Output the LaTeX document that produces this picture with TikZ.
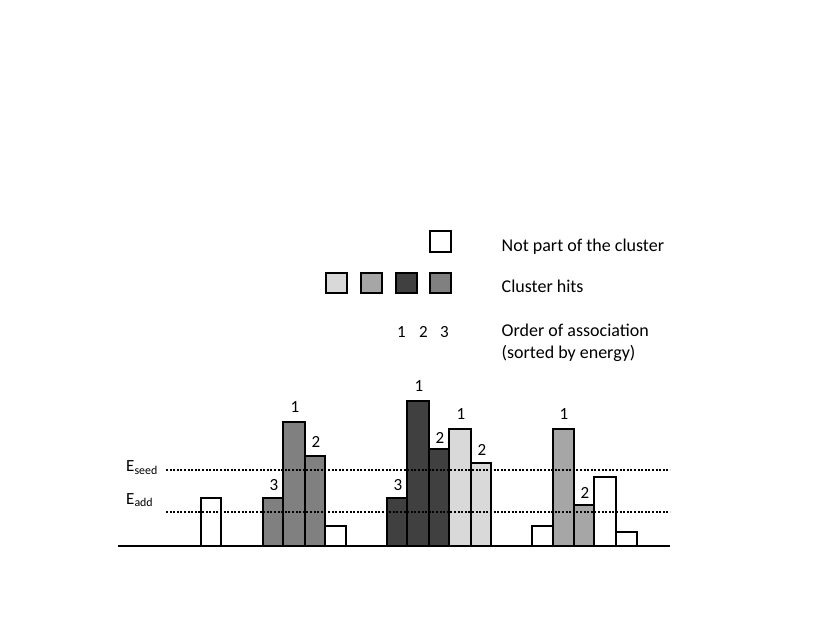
\documentclass[tikz,border=0pt]{standalone}
\usepackage{fontspec}
\setmainfont{Carlito}
\definecolor{cA}{HTML}{808080}
\definecolor{cB}{HTML}{404040}
\definecolor{cC}{HTML}{D9D9D9}
\definecolor{cD}{HTML}{A6A6A6}
\begin{document}
\begin{tikzpicture}[x=1pt,y=-1pt,
  bar/.style={draw=black,line width=2pt},
  lbl/.style={font=\fontsize{17}{19}\selectfont,inner sep=0pt,anchor=base},
  txt/.style={font=\fontsize{18}{22}\selectfont,inner sep=0pt,anchor=base west,align=left},
  thr/.style={line width=2pt,dash pattern=on 2pt off 1.6pt}]
\useasboundingbox (0,0) rectangle (830,623);
% bars
\draw[bar,fill=white] (201,546) rectangle (221,498);
\draw[bar,fill=cA] (263,546) rectangle (283,498);
\draw[bar,fill=cA] (283,546) rectangle (305,422);
\draw[bar,fill=cA] (305,546) rectangle (325,456);
\draw[bar,fill=white] (325,546) rectangle (346,526);
\draw[bar,fill=cB] (387,546) rectangle (407,498);
\draw[bar,fill=cB] (407,546) rectangle (429,401);
\draw[bar,fill=cB] (429,546) rectangle (449,449);
\draw[bar,fill=cC] (449,546) rectangle (471,429);
\draw[bar,fill=cC] (471,546) rectangle (491,463);
\draw[bar,fill=white] (532,546) rectangle (553,526);
\draw[bar,fill=cD] (553,546) rectangle (574,429);
\draw[bar,fill=cD] (574,546) rectangle (594,505);
\draw[bar,fill=white] (594,546) rectangle (616,477);
\draw[bar,fill=white] (616,546) rectangle (637,532);
% thresholds
\coordinate (s0) at (166,470); \coordinate (s1) at (670,470);
\coordinate (a0) at (166,512); \coordinate (a1) at (670,512);
\draw[thr] (s0) -- (s1);
\draw[thr] (a0) -- (a1);
\node[lbl,anchor=base west] (eseed) at (126,471.5) {E\textsubscript{seed}};
\node[lbl,anchor=base west] (eadd) at (126,504) {E\textsubscript{add}};
% baseline
\coordinate (b0) at (118,546); \coordinate (b1) at (670,546);
\draw[line width=2pt] (b0) -- (b1);
% bar labels
\node[lbl] (n1) at (295,412.5) {1};
\node[lbl] (n2) at (316,447.5) {2};
\node[lbl] (n3) at (274,490) {3};
\node[lbl] (n4) at (419,391.5) {1};
\node[lbl] (n5) at (440,443.5) {2};
\node[lbl] (n6) at (398,490) {3};
\node[lbl] (n7) at (461,419.5) {1};
\node[lbl] (n8) at (482,455.5) {2};
\node[lbl] (n9) at (564,419.5) {1};
\node[lbl] (n10) at (585,498.5) {2};
% legend
\draw[bar,fill=white] (430,231) rectangle (451,252);
\draw[bar,fill=cC] (326,273) rectangle (347,293);
\draw[bar,fill=cD] (361,273) rectangle (382,293);
\draw[bar,fill=cB] (396,273) rectangle (417,293);
\draw[bar,fill=cA] (430,273) rectangle (451,293);
\node[lbl] (o1) at (401.5,337) {1};
\node[lbl] (o2) at (423.5,337) {2};
\node[lbl] (o3) at (444.5,337) {3};
\node[txt] (t1) at (501.5,251) {Not part of the cluster};
\node[txt] (t2) at (501.5,292) {Cluster hits};
\node[txt] (t3) at (501.5,358) {Order of association\\(sorted by energy)};
\end{tikzpicture}
\end{document}
